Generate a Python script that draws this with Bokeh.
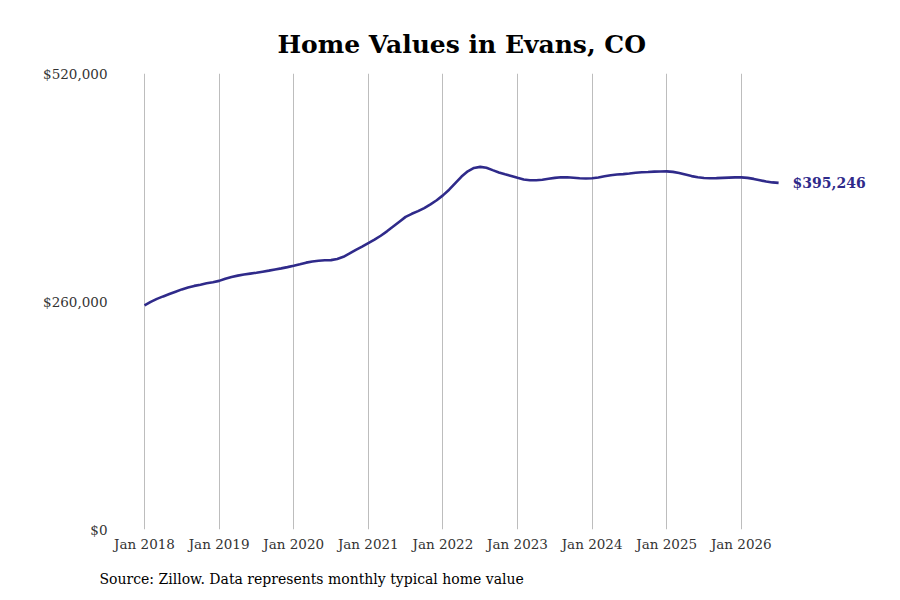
import pandas as pd
from bokeh.plotting import figure
from bokeh.models import Range1d, FixedTicker, Title, Label
from bokeh.embed import file_html
from bokeh.resources import INLINE

# ---- data (monthly typical home value, Evans CO) ----
start_month = "2018-01-01"
values = [
    # 2018
    255500, 259500, 263000, 265800, 268500, 271200, 273800, 276000, 277800, 279200, 280800, 282000,
    # 2019
    283500, 286000, 288000, 289500, 290800, 291800, 292800, 294000, 295200, 296500, 297800, 299200,
    # 2020
    300800, 302500, 304300, 305600, 306500, 307000, 307200, 308500, 311000, 314800, 318800, 322500,
    # 2021
    326500, 330500, 335000, 340000, 345500, 351000, 356500, 360000, 363000, 366500, 370800, 375500,
    # 2022
    381000, 387500, 395000, 402500, 408500, 412300, 413500, 412500, 409800, 407200, 405000, 403200,
    # 2023
    401000, 399200, 398300, 398200, 398900, 400000, 401000, 401600, 401700, 401200, 400500, 400300,
    # 2024
    400600, 401500, 402800, 404000, 404800, 405300, 406000, 406900, 407400, 407700, 408100, 408300,
    # 2025
    408400, 407800, 406500, 404800, 403000, 401700, 400900, 400600, 400700, 401000, 401300, 401500,
    # 2026
    401500, 401000, 399800, 398300, 396800, 395800, 395246,
]
year_ticks = [2018, 2019, 2020, 2021, 2022, 2023, 2024, 2025, 2026]
tick_labels = ["Jan 2018", "Jan 2019", "Jan 2020", "Jan 2021", "Jan 2022",
               "Jan 2023", "Jan 2024", "Jan 2025", "Jan 2026"]
y_ticks = [0, 260000, 520000]
y_tick_labels = ["$0", "$260,000", "$520,000"]
title_text = "Home Values in Evans, CO"
source_text = "Source: Zillow. Data represents monthly typical home value"
last_label = "$395,246"

dates = pd.date_range(start_month, periods=len(values), freq="MS")
xs = [d.year + (d.month - 1) / 12 for d in dates]

SERIF = "DejaVu Serif"
LINE_COLOR = "#2f2a8a"
PX_PER_YEAR = 74.6

p = figure(width=892, height=600, output_backend="svg", toolbar_location=None,
           x_range=Range1d(2018 - 1 / PX_PER_YEAR, 2018 + (870 - 144) / PX_PER_YEAR),
           y_range=Range1d(0, 520000),
           min_border_left=143, min_border_right=22, min_border_top=73, min_border_bottom=66)
p.outline_line_color = None
p.background_fill_color = "white"
p.border_fill_color = "white"

p.line(xs, values, line_color=LINE_COLOR, line_width=2.6)

p.add_layout(Label(x=xs[-1], y=values[-1], text=last_label, x_offset=14,
                   text_font=SERIF, text_font_style="bold", text_font_size="14px",
                   text_color=LINE_COLOR, text_baseline="middle"))

# axes
p.xaxis.ticker = FixedTicker(ticks=year_ticks)
p.xaxis.major_label_overrides = {t: l for t, l in zip(year_ticks, tick_labels)}
p.yaxis.ticker = FixedTicker(ticks=y_ticks)
p.yaxis.major_label_overrides = {t: l for t, l in zip(y_ticks, y_tick_labels)}
for ax in (p.xaxis, p.yaxis):
    ax.axis_line_color = None
    ax.major_tick_line_color = None
    ax.minor_tick_line_color = None
    ax.major_tick_out = 0
    ax.major_tick_in = 0
    ax.major_label_text_font = SERIF
    ax.major_label_text_font_size = "13.5px"
    ax.major_label_text_color = "#333333"
p.yaxis.major_label_standoff = 36
p.xaxis.major_label_standoff = 6

p.xgrid.grid_line_color = "#bdbdbd"
p.xgrid.grid_line_width = 1
p.ygrid.grid_line_color = None

p.title.text = title_text
p.title.text_font = SERIF
p.title.text_font_style = "bold"
p.title.text_font_size = "25px"
p.title.text_color = "#000000"
p.title.align = "left"
p.title.offset = 134
p.title.standoff = 30

p.add_layout(Title(text=source_text, text_font=SERIF, text_font_style="normal",
                   text_font_size="14px", text_color="#000000", align="left",
                   offset=-44, standoff=28), "below")

open("out.html", "w").write(file_html(p, INLINE))
